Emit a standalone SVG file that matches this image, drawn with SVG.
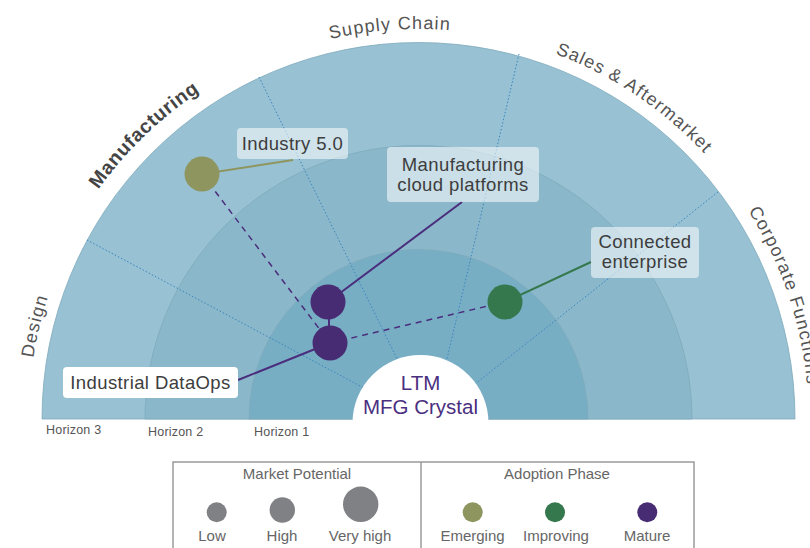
<svg xmlns="http://www.w3.org/2000/svg" width="810" height="548" viewBox="0 0 810 548">
<style>
text{font-family:"Liberation Sans",Arial,sans-serif}
.sector{font-size:18px;fill:#545454;letter-spacing:1.2px}
.sectorb{font-size:19.5px;fill:#444;font-weight:bold;letter-spacing:0.6px}
.ring{stroke:#7ea9bb;stroke-width:0.8}
.div{stroke:#3a84bf;stroke-width:1;stroke-dasharray:1.5 2;fill:none}
.dash{stroke:#4a2d7d;stroke-width:1.5;stroke-dasharray:6 5;fill:none}
.lbl{font-size:18.5px;fill:#3d3d3d;letter-spacing:0.4px;text-anchor:middle}
.box{fill:#fff;fill-opacity:0.55}
.hz{font-size:12.5px;fill:#555;letter-spacing:0.2px}
.lg{font-size:15px;fill:#666;text-anchor:middle}
.purple{fill:#472c74}
.olive{fill:#8f955f}
.green{fill:#35784d}
.grey{fill:#808184}
</style>
<defs>
<path id="arcPath" d="M 28.5 419 A 390 390 0 0 1 808.5 419"/>
<path id="arcPath2" d="M 24.5 419 A 394 394 0 0 1 812.5 419"/>
</defs>
<g id="rings">
<path class="ring" d="M 42 419 A 376.5 376.5 0 0 1 795 419 Z" fill="#98c2d3"/>
<path class="ring" d="M 145 419 A 273.5 273.5 0 0 1 692 419 Z" fill="#8ab8ca"/>
<path class="ring" d="M 249 419 A 169.5 169.5 0 0 1 588 419 Z" fill="#78aec4"/>
</g>
<g id="dividers">
<line class="div" x1="87" y1="240" x2="420" y2="418"/>
<line class="div" x1="259" y1="77" x2="426" y2="418"/>
<line class="div" x1="519" y1="54" x2="433" y2="418"/>
<line class="div" x1="718" y1="192" x2="432" y2="418"/>
</g>
<g id="sector-labels">
<text class="sector"><textPath href="#arcPath" startOffset="93" text-anchor="middle">Design</textPath></text>
<text class="sectorb"><textPath href="#arcPath2" startOffset="316" text-anchor="middle">Manufacturing</textPath></text>
<text class="sector"><textPath href="#arcPath" startOffset="584" text-anchor="middle">Supply Chain</textPath></text>
<text class="sector"><textPath href="#arcPath" startOffset="843" text-anchor="middle">Sales &amp; Aftermarket</textPath></text>
<text class="sector"><textPath href="#arcPath" startOffset="1005">Corporate Functions</textPath></text>
</g>
<g id="center">
<circle cx="420.5" cy="423" r="68" fill="#fff"/>
<text x="420.5" y="390" font-size="20.5" fill="#4a2f7f" text-anchor="middle">LTM</text>
<text x="420.5" y="413.5" font-size="20.5" fill="#4a2f7f" text-anchor="middle">MFG Crystal</text>
</g>
<g id="horizons">
<text class="hz" x="46" y="433.5">Horizon 3</text>
<text class="hz" x="148" y="435.5">Horizon 2</text>
<text class="hz" x="254" y="435.5">Horizon 1</text>
</g>
<g id="connectors">
<line class="dash" x1="202" y1="174" x2="330" y2="343"/>
<line class="dash" x1="330" y1="343" x2="505" y2="302"/>
<line x1="329" y1="302" x2="329" y2="343" stroke="#4a2d7d" stroke-width="2"/>
<line x1="202" y1="174" x2="293" y2="160" stroke="#8f955f" stroke-width="2"/>
<line x1="328" y1="302" x2="462" y2="202" stroke="#4a2d7d" stroke-width="2"/>
<line x1="330" y1="343" x2="238" y2="380" stroke="#4a2d7d" stroke-width="2"/>
<line x1="505" y1="302" x2="591" y2="262" stroke="#35784d" stroke-width="2"/>
</g>
<g id="industry-5">
<circle class="olive" cx="202" cy="174" r="17.5"/>
<rect class="box" x="237" y="128" width="111" height="31" rx="4"/>
<text class="lbl" x="292.5" y="149.5">Industry 5.0</text>
</g>
<g id="cloud-platforms">
<circle class="purple" cx="328" cy="302" r="17.5"/>
<rect class="box" x="387" y="147" width="152" height="55" rx="4"/>
<text class="lbl" x="463" y="170.5">Manufacturing</text>
<text class="lbl" x="463" y="190.5">cloud platforms</text>
</g>
<g id="industrial-dataops">
<circle class="purple" cx="330" cy="343" r="17.5"/>
<rect x="63" y="367" width="175" height="31" rx="4" fill="#fff"/>
<text class="lbl" x="150.5" y="388.5">Industrial DataOps</text>
</g>
<g id="connected-enterprise">
<circle class="green" cx="505" cy="302" r="17.5"/>
<rect class="box" x="591" y="227" width="108" height="51" rx="4"/>
<text class="lbl" x="645" y="247.5">Connected</text>
<text class="lbl" x="645" y="268">enterprise</text>
</g>
<g id="legend">
<path d="M 173 548 V 462 H 694 V 548 M 421 462 V 548" fill="none" stroke="#9a9a9a" stroke-width="1.5"/>
<text class="lg" x="297" y="478.5">Market Potential</text>
<text class="lg" x="557" y="478.5">Adoption Phase</text>
<circle class="grey" cx="216.7" cy="512.3" r="10"/>
<circle class="grey" cx="282.3" cy="510" r="12.7"/>
<circle class="grey" cx="360.7" cy="504.3" r="17.7"/>
<text class="lg" x="212" y="541">Low</text>
<text class="lg" x="282" y="541">High</text>
<text class="lg" x="360" y="541">Very high</text>
<circle class="olive" cx="472.7" cy="512.3" r="10"/>
<circle class="green" cx="555" cy="512.3" r="10"/>
<circle class="purple" cx="647.3" cy="512.3" r="10"/>
<text class="lg" x="472.5" y="541">Emerging</text>
<text class="lg" x="556" y="541">Improving</text>
<text class="lg" x="647" y="541">Mature</text>
</g>
</svg>
